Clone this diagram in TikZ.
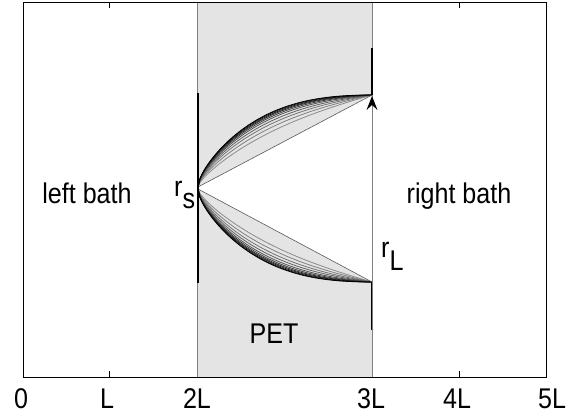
\documentclass[tikz,border=0pt]{standalone}
\usepackage{fontspec}
\setmainfont[FakeStretch=0.88]{Liberation Sans}
\usetikzlibrary{arrows.meta}
\definecolor{bandgray}{RGB}{228,228,228}
\definecolor{edgegray}{RGB}{128,128,128}
\tikzset{
  lbl/.style={inner sep=0pt, font=\fontsize{28.5}{32}\selectfont},
  curve/.style={line width=0.8pt},
  bar/.style={line width=1.6pt, black},
  edge/.style={line width=0.9pt, edgegray},
}
\begin{document}
\begin{tikzpicture}[x=1pt, y=-1pt,
  declare function={F(\t)=0.5*sqrt(\t*(2-\t))+0.5*(1-(1-\t)^3);}]
\useasboundingbox (0,0) rectangle (570,418);
% key points
\coordinate (apexU) at (198,187);
\coordinate (apexD) at (198,189);
\coordinate (endU) at (372,95);
\coordinate (endD) at (372,282);
\coordinate (bot) at (372,377);
% PET band
\fill[bandgray] (197,2) rectangle (372,377);
% white triangle
\fill[white] (apexU) -- (endU) -- (endD) -- (apexD) -- cycle;
% family of profiles
\foreach \a/\c in {0.46/45,0.58/50,0.68/55,0.76/62,0.83/68,0.88/75,0.92/82,0.95/88,0.98/94,1.0/100}{
  \draw[curve, black!\c] plot[domain=0:1, samples=90, variable=\t]
    ({198+174*\t}, {187-92*(\a*F(\t)+(1-\a)*\t)});
  \draw[curve, black!\c] plot[domain=0:1, samples=90, variable=\t]
    ({198+174*\t}, {189+93*(\a*F(\t)+(1-\a)*\t)});
}
% straight lines
\draw[line width=0.6pt, black!65] (apexU) -- (endU);
\draw[line width=0.6pt, black!65] (apexD) -- (endD);
% band edges
\draw[edge] (197,2) -- (197,377);
\draw[edge] (372,2) -- (372,377);
% thick black segments
\coordinate (lt) at (198,93);
\coordinate (lb) at (198,283);
\draw[bar] (lt) -- (lb);
\coordinate (rt) at (372,48);
\draw[bar] (rt) -- (endU);
\coordinate (rb) at (372,330);
\draw[bar] (endD) -- (rb);
% arrow r_L
\coordinate (tip) at (372,96);
\coordinate (notch) at (372,105);
\draw[line width=0.8pt, edgegray] (bot) -- (notch);
\fill[black] (tip) -- (366.5,110) -- (notch) -- (377.5,110) -- cycle;
% frame
\draw[line width=1pt] (23,2) rectangle (546,377);
\foreach \x in {109,459}{
  \draw[line width=1pt] (\x,377) -- (\x,371);
  \draw[line width=1pt] (\x,2) -- (\x,8);
}
% labels
\node[lbl, anchor=base] (t0) at (21,408) {0};
\node[lbl, anchor=base] (t1) at (107,408) {L};
\node[lbl, anchor=base] (t2) at (197,408) {2L};
\node[lbl, anchor=base] (t3) at (371,408) {3L};
\node[lbl, anchor=base] (t4) at (457,408) {4L};
\node[lbl, anchor=base] (t5) at (552,408) {5L};
\node[lbl, anchor=base] (lb1) at (87,203) {left bath};
\node[lbl, anchor=base] (rb1) at (459,203) {right bath};
\node[lbl, anchor=base] (pet) at (274,343) {PET};
\node[lbl, anchor=base west] (rs) at (174,196) {r\raisebox{-12pt}{s}};
\node[lbl, anchor=base west] (rL) at (381,257) {r\raisebox{-13pt}{L}};
\end{tikzpicture}
\end{document}
